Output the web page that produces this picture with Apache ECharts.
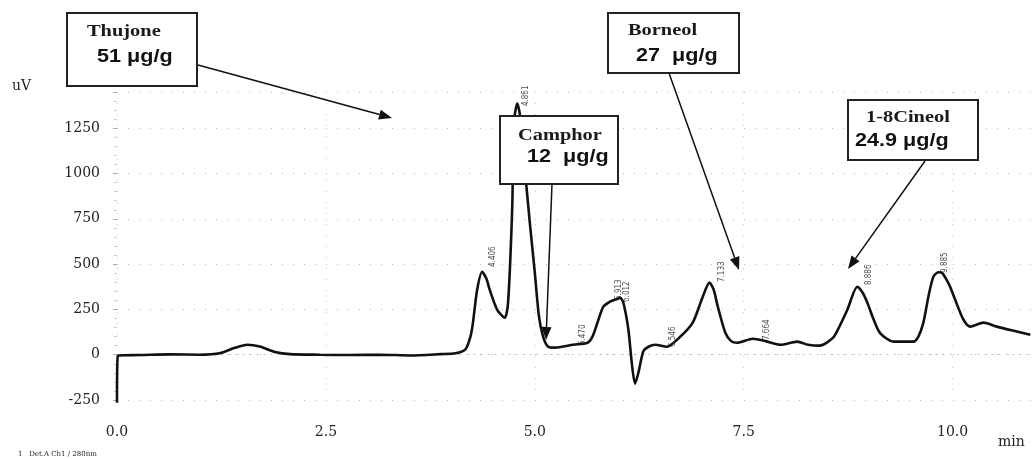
<!DOCTYPE html>
<html>
<head>
<meta charset="utf-8">
<script src="https://cdn.jsdelivr.net/npm/echarts@6/dist/echarts.min.js"></script>
<style>
  html, body { margin: 0; padding: 0; background: #fff; }
  #main { width: 1032px; height: 459px; }
</style>
</head>
<body>
<div id="main"></div>
<script>
// chromatogram trace (min, uV)
const retentionTime = [0, 0.01, 0.1, 0.28, 0.63, 0.99, 1.23, 1.41, 1.56, 1.71, 1.89, 2.07, 2.43, 2.79, 3.15, 3.51, 3.87, 4.05,
  4.17, 4.23, 4.26, 4.31, 4.37, 4.42, 4.46, 4.55, 4.64, 4.68, 4.73, 4.75, 4.79, 4.82, 4.85, 4.90, 4.94, 5.00, 5.05, 5.10,
  5.16, 5.24, 5.46, 5.63, 5.69, 5.75, 5.82, 5.90, 5.96, 6.00, 6.02, 6.06, 6.12, 6.16, 6.20, 6.24, 6.30, 6.36, 6.44, 6.58,
  6.74, 6.89, 7.01, 7.09, 7.14, 7.19, 7.28, 7.35, 7.42, 7.61, 7.76, 7.94, 8.14, 8.27, 8.41, 8.57, 8.65, 8.74, 8.86, 8.92,
  8.98, 9.05, 9.13, 9.29, 9.53, 9.59, 9.65, 9.71, 9.77, 9.83, 9.87, 9.92, 9.97, 10.05, 10.13, 10.21, 10.37, 10.53, 10.72, 10.93];
const signal = [-265, -5, -3, -2, 2, 0, 8, 38, 55, 45, 15, 3, 0, -2, 0, -4, 3, 8,
  30, 100, 177, 359, 458, 420, 359, 248, 204, 287, 817, 1281, 1386, 1330, 1150, 928, 729, 453, 210, 99,
  44, 39, 55, 66, 100, 177, 265, 293, 304, 310, 315, 287, 138, -44, -160, -99, 20, 44, 55, 44,
  99, 177, 320, 398, 360, 265, 121, 75, 66, 88, 75, 55, 72, 55, 50, 94, 160, 248, 375, 345,
  287, 200, 121, 72, 72, 100, 177, 320, 431, 455, 453, 420, 375, 280, 193, 155, 177, 155, 133, 110];

// retention-time tags printed beside the peaks
const peakTags = ['4.406', '4.861', '5.470', '5.913', '6.012', '6.546', '7.133', '7.664', '8.886', '9.885'];
const peakTagTime = [4.50, 4.89, 5.58, 6.01, 6.10, 6.65, 7.24, 7.78, 9.00, 9.91];
const peakTagLevel = [541, 1429, 110, 359, 348, 99, 458, 138, 441, 508];

// callout boxes
const compounds = ['Thujone', 'Camphor', 'Borneol', '1-8Cineol'];
const amounts = ['51 μg/g', '12  μg/g', '27  μg/g', '24.9 μg/g'];

const yTickStep = 250;
const xTickStep = 2.5;

const chart = echarts.init(document.getElementById('main'));

// box + arrow placement, in pixels
const callouts = [
  { box: [67, 13, 130, 73], name: [87, 32], amount: [97, 57], from: [198, 65], to: [392, 118] },
  { box: [500, 116, 118, 68], name: [518, 136], amount: [527, 157], from: [552, 184], to: [546, 340] },
  { box: [608, 13, 131, 60], name: [628, 31], amount: [636, 56], from: [669, 73], to: [739, 270] },
  { box: [848, 100, 130, 60], name: [866, 118], amount: [855, 141], from: [925, 161], to: [848, 269] }
];

function arrow(x1, y1, x2, y2) {
  const a = Math.atan2(y2 - y1, x2 - x1);
  const len = 13, half = 5;
  const bx = x2 - len * Math.cos(a), by = y2 - len * Math.sin(a);
  const px = -Math.sin(a) * half, py = Math.cos(a) * half;
  return [
    { type: 'line', z: 100, shape: { x1: x1, y1: y1, x2: bx, y2: by }, style: { stroke: '#111', lineWidth: 1.5 } },
    { type: 'polygon', z: 100, shape: { points: [[x2, y2], [bx + px, by + py], [bx - px, by - py]] }, style: { fill: '#111' } }
  ];
}

function buildGraphics() {
  const g = [];
  callouts.forEach((c, i) => {
    g.push({ type: 'rect', z: 100, shape: { x: c.box[0], y: c.box[1], width: c.box[2], height: c.box[3] },
      style: { fill: '#fff', stroke: '#222', lineWidth: 2 } });
    g.push({ type: 'text', z: 101, x: c.name[0], y: c.name[1], scaleX: 1.2,
      style: { text: compounds[i], font: 'bold 17px "Liberation Serif"', fill: '#1a1a1a', textVerticalAlign: 'middle' } });
    g.push({ type: 'text', z: 101, x: c.amount[0], y: c.amount[1], scaleX: 1.2,
      style: { text: amounts[i], font: 'bold 18px "Liberation Sans"', fill: '#111', textVerticalAlign: 'middle' } });
    arrow(c.from[0], c.from[1], c.to[0], c.to[1]).forEach(e => g.push(e));
  });
  g.push({ type: 'text', x: 12, y: 86, style: { text: 'uV', font: '14px "DejaVu Serif"', fill: '#222', textVerticalAlign: 'middle' } });
  g.push({ type: 'text', x: 998, y: 442, style: { text: 'min', font: '14px "DejaVu Serif"', fill: '#222', textVerticalAlign: 'middle' } });
  g.push({ type: 'text', x: 18, y: 454, style: { text: '1   Det.A Ch1 / 280nm', font: '7px "DejaVu Serif"', fill: '#222', textVerticalAlign: 'middle' } });
  return g;
}

function isStep(v, step) {
  return Math.abs(v / step - Math.round(v / step)) < 1e-6;
}

chart.setOption({
  animation: false,
  grid: { left: 117, right: 0, top: 92, bottom: 59, outerBoundsMode: 'none' },
  xAxis: {
    type: 'value', min: 0, max: 10.95, interval: xTickStep, offset: 18,
    axisLine: { show: true, lineStyle: { type: [1, 6], color: '#bbb' } },
    axisTick: { show: false },
    splitLine: { show: true, lineStyle: { type: [1, 10], color: '#ccc' } },
    axisLabel: {
      margin: 7, fontFamily: 'DejaVu Serif', fontSize: 14, color: '#222',
      formatter: v => isStep(v, xTickStep) ? v.toFixed(1) : ''
    }
  },
  yAxis: {
    type: 'value', min: -250, max: 1450, interval: yTickStep,
    axisLine: { show: false },
    axisTick: { show: true, length: 4, lineStyle: { color: '#aaa' } },
    minorTick: { show: true, splitNumber: 5, length: 3, lineStyle: { color: '#ccc' } },
    splitLine: { show: true, lineStyle: { type: [1, 10], color: '#bbb' } },
    axisLabel: {
      margin: 17, fontFamily: 'DejaVu Serif', fontSize: 14, color: '#222',
      formatter: v => isStep(v, yTickStep) ? String(v) : ''
    }
  },
  series: [
    {
      type: 'line',
      data: retentionTime.map((t, i) => [t, signal[i]]),
      showSymbol: false,
      smooth: 0.25,
      clip: false,
      lineStyle: { color: '#111', width: 2.6 },
      z: 2
    },
    {
      type: 'scatter',
      symbolSize: 0,
      silent: true,
      data: peakTagTime.map((t, i) => [t, peakTagLevel[i], peakTags[i]]),
      label: {
        show: true, position: 'inside', rotate: 90,
        formatter: p => p.data[2],
        fontFamily: 'DejaVu Sans Condensed', fontSize: 8, color: '#222'
      },
      z: 3
    }
  ],
  graphic: buildGraphics()
});

window.addEventListener('resize', () => {
  chart.resize();
});
</script>
</body>
</html>
